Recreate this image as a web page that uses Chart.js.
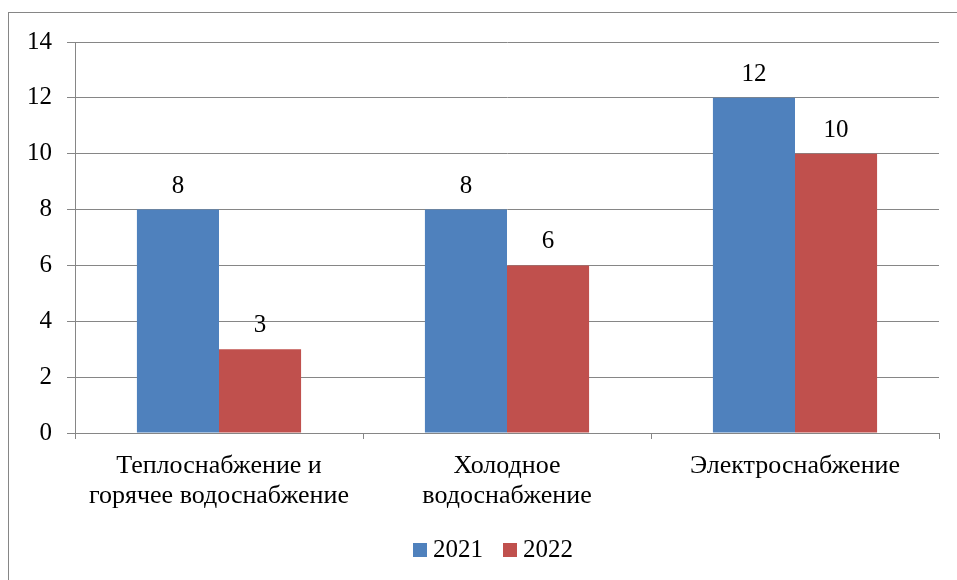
<!DOCTYPE html>
<html>
<head>
<meta charset="utf-8">
<script src="https://cdn.jsdelivr.net/npm/chart.js@4/dist/chart.umd.min.js"></script>
<style>
  body { margin: 0; background: #fff; overflow: hidden; }
  #frame {
    position: absolute; left: 8px; top: 12px;
    width: 1000px; height: 700px;
    border: 1px solid #868686;
  }
  #myChart { position: absolute; left: 0; top: 0; }
</style>
</head>
<body>
<div id="frame"></div>
<canvas id="myChart" width="957" height="580"></canvas>
<script>
const categories = [
  ['Теплоснабжение и', 'горячее водоснабжение'],
  ['Холодное', 'водоснабжение'],
  ['Электроснабжение'],
];
const values2021 = [8, 8, 12];
const values2022 = [3, 6, 10];
const yTicks = [0, 2, 4, 6, 8, 10, 12, 14];

const FONT = "'Liberation Serif', 'Times New Roman', serif";
const gridColor = '#868686';

// подписи значений над столбиками
const valueLabels = {
  id: 'valueLabels',
  afterDatasetsDraw(chart) {
    const ctx = chart.ctx;
    ctx.save();
    ctx.font = '25px ' + FONT;
    ctx.fillStyle = '#000';
    ctx.textAlign = 'center';
    ctx.textBaseline = 'alphabetic';
    chart.data.datasets.forEach((ds, i) => {
      chart.getDatasetMeta(i).data.forEach((el, j) => {
        ctx.fillText(String(ds.data[j]), el.x, el.y - 17);
      });
    });
    ctx.restore();
  },
};

// легенда снизу, как в Excel
const bottomLegend = {
  id: 'bottomLegend',
  afterDraw(chart) {
    const ctx = chart.ctx;
    ctx.save();
    ctx.font = '25px ' + FONT;
    ctx.textBaseline = 'alphabetic';
    ctx.textAlign = 'left';
    const box = 14, gap = 6, between = 20, baseY = 557;
    const items = chart.data.datasets.map((ds) => ({
      text: ds.label,
      color: ds.backgroundColor,
      w: box + gap + ctx.measureText(ds.label).width,
    }));
    const total = items.reduce((s, it) => s + it.w, 0) + between * (items.length - 1);
    let x = 493 - total / 2;
    items.forEach((it) => {
      ctx.fillStyle = it.color;
      ctx.fillRect(x, baseY - 14, box, box);
      ctx.fillStyle = '#000';
      ctx.fillText(it.text, x + box + gap, baseY);
      x += it.w + between;
    });
    ctx.restore();
  },
};

const data = {
  labels: categories,
  datasets: [
    {
      label: '2021',
      backgroundColor: '#4F81BD',
      data: values2021,
      categoryPercentage: 0.57,
      barPercentage: 1,
    },
    {
      label: '2022',
      backgroundColor: '#C0504D',
      data: values2022,
      categoryPercentage: 0.57,
      barPercentage: 1,
    },
  ],
};

const config = {
  type: 'bar',
  data: data,
  options: {
    responsive: false,
    animation: false,
    layout: { padding: { left: 0, right: 18, top: 42, bottom: 0 } },
    plugins: {
      legend: { display: false },
      tooltip: { enabled: false },
    },
    scales: {
      x: {
        afterFit(scale) { scale.height = 147; },
        grid: {
          offset: true,
          drawOnChartArea: false,
          drawTicks: true,
          tickLength: 6,
          color: gridColor,
        },
        border: { display: true, color: gridColor },
        ticks: {
          color: '#000',
          font: { family: FONT, size: 26, lineHeight: 1.15 },
          padding: 12,
          maxRotation: 0,
          autoSkip: false,
        },
      },
      y: {
        min: 0,
        max: 14,
        afterFit(scale) { scale.width = 75; },
        afterBuildTicks(scale) {
          scale.ticks = yTicks.map((v) => ({ value: v }));
        },
        grid: {
          color: gridColor,
          drawTicks: true,
          tickLength: 8,
        },
        border: { display: true, color: gridColor },
        ticks: {
          color: '#000',
          font: { family: FONT, size: 25 },
          padding: 15,
        },
      },
    },
  },
  plugins: [valueLabels, bottomLegend],
};

const myChart = new Chart(document.getElementById('myChart'), config);
</script>
</body>
</html>
